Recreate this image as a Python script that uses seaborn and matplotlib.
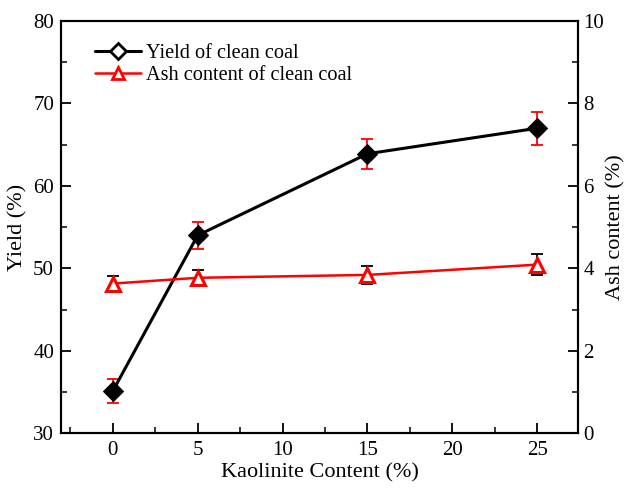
import matplotlib
matplotlib.use("Agg")
import matplotlib.pyplot as plt
from matplotlib.lines import Line2D
from matplotlib.ticker import MultipleLocator
import seaborn as sns
import pandas as pd

# Flotation results versus kaolinite dosage
kaolinite = [0, 5, 15, 25]
yield_pct = [35.1, 54.0, 63.9, 67.0]
yield_err = [1.5, 1.6, 1.8, 2.0]
ash_pct = [3.63, 3.77, 3.84, 4.09]
ash_err = [0.18, 0.19, 0.21, 0.26]

sns.set_style("ticks")
plt.rcParams["font.family"] = ["Liberation Serif", "DejaVu Serif"]
plt.rcParams["xtick.direction"] = "in"
plt.rcParams["ytick.direction"] = "in"
plt.rcParams["text.color"] = "black"
plt.rcParams["axes.labelcolor"] = "black"

df = pd.DataFrame({"k": kaolinite, "y": yield_pct, "a": ash_pct})

fig = plt.figure(figsize=(6.26, 4.90), dpi=100)
ax = fig.add_axes([0.0974, 0.116, 0.826, 0.841])
ax2 = ax.twinx()

# Yield (left axis)
ax.errorbar(kaolinite, yield_pct, yerr=yield_err, fmt="none", ecolor="red",
            elinewidth=1.3, capsize=4, capthick=1.3, zorder=3)
sns.lineplot(data=df, x="k", y="y", ax=ax, color="black", linewidth=2.2,
             marker="D", markersize=10, markerfacecolor="black",
             markeredgecolor="black", zorder=4)

# Ash content (right axis)
ax2.errorbar(kaolinite, ash_pct, yerr=ash_err, fmt="none", ecolor="black",
             elinewidth=1.3, capsize=4, capthick=1.3, zorder=3)
sns.lineplot(data=df, x="k", y="a", ax=ax2, color="red", linewidth=1.8,
             marker="^", markersize=10, markerfacecolor="white",
             markeredgecolor="red", markeredgewidth=2.2, zorder=4)

ax.set_xlim(-3.05, 27.4)
ax.set_ylim(30, 80)
ax2.set_ylim(0, 10)

ax.xaxis.set_major_locator(MultipleLocator(5))
ax.xaxis.set_minor_locator(MultipleLocator(2.5))
ax.yaxis.set_major_locator(MultipleLocator(10))
ax.yaxis.set_minor_locator(MultipleLocator(5))
ax2.yaxis.set_major_locator(MultipleLocator(2))
ax2.yaxis.set_minor_locator(MultipleLocator(1))

for a in (ax, ax2):
    a.tick_params(which="major", length=7, width=1.3, labelsize=15, colors="black")
    a.tick_params(which="minor", length=4, width=1.3)
    for s in a.spines.values():
        s.set_visible(True)
        s.set_linewidth(1.5)
        s.set_color("black")

ax.tick_params(axis="x", pad=6)
ax.tick_params(axis="y", pad=5)
ax2.tick_params(axis="y", pad=4)

ax.set_xlabel("Kaolinite Content (%)", fontsize=16, labelpad=2)
ax.set_ylabel("Yield (%)", fontsize=16, labelpad=4)
ax2.set_ylabel("Ash content (%)", fontsize=16, labelpad=1)

handles = [
    Line2D([], [], color="black", linewidth=2.2, marker="D", markersize=8,
           markerfacecolor="white", markeredgecolor="black", markeredgewidth=2),
    Line2D([], [], color="red", linewidth=1.8, marker="^", markersize=9,
           markerfacecolor="white", markeredgecolor="red", markeredgewidth=2),
]
ax.legend(handles, ["Yield of clean coal", "Ash content of clean coal"],
          loc="upper left", bbox_to_anchor=(0.065, 0.945), frameon=False,
          fontsize=14.6, handlelength=2.3, handletextpad=0.25,
          labelspacing=0.15, borderaxespad=0.0, borderpad=0.0)

fig.savefig("out.png", dpi=100)
